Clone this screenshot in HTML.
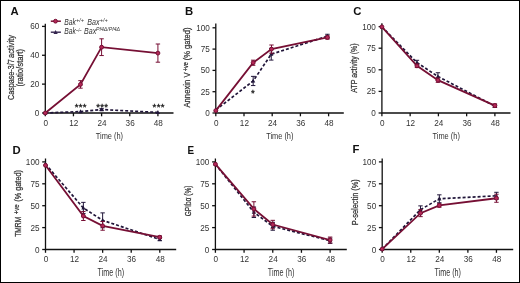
<!DOCTYPE html><html><head><meta charset="utf-8"><style>html,body{margin:0;padding:0;background:#fff}svg{display:block;will-change:transform}text{font-family:"Liberation Sans", sans-serif}</style></head><body>
<svg width="520" height="283" viewBox="0 0 520 283">
<rect x="0.5" y="0.5" width="519" height="282" fill="#fff" stroke="#000" stroke-width="1"/>
<g stroke="#111111" stroke-width="1.3" fill="none">
<path d="M45.3 23.8 V113 H173.5"/>
<path d="M42 113 H45.3"/>
<path d="M42 84.13 H45.3"/>
<path d="M42 55.27 H45.3"/>
<path d="M42 26.4 H45.3"/>
<path d="M45.3 113 V116.3"/>
<path d="M73.45 113 V116.3"/>
<path d="M101.6 113 V116.3"/>
<path d="M129.76 113 V116.3"/>
<path d="M157.91 113 V116.3"/>
</g>
<text x="39.3" y="116" font-size="9.4" text-anchor="end" fill="#333333" textLength="4.55" lengthAdjust="spacingAndGlyphs">0</text>
<text x="39.3" y="87.13" font-size="9.4" text-anchor="end" fill="#333333" textLength="9.1" lengthAdjust="spacingAndGlyphs">20</text>
<text x="39.3" y="58.27" font-size="9.4" text-anchor="end" fill="#333333" textLength="9.1" lengthAdjust="spacingAndGlyphs">40</text>
<text x="39.3" y="29.4" font-size="9.4" text-anchor="end" fill="#333333" textLength="9.1" lengthAdjust="spacingAndGlyphs">60</text>
<text x="45.7" y="125.9" font-size="9.4" text-anchor="middle" fill="#333333" textLength="4.55" lengthAdjust="spacingAndGlyphs">0</text>
<text x="73.85" y="125.9" font-size="9.4" text-anchor="middle" fill="#333333" textLength="9.1" lengthAdjust="spacingAndGlyphs">12</text>
<text x="102" y="125.9" font-size="9.4" text-anchor="middle" fill="#333333" textLength="9.1" lengthAdjust="spacingAndGlyphs">24</text>
<text x="130.16" y="125.9" font-size="9.4" text-anchor="middle" fill="#333333" textLength="9.1" lengthAdjust="spacingAndGlyphs">36</text>
<text x="158.31" y="125.9" font-size="9.4" text-anchor="middle" fill="#333333" textLength="9.1" lengthAdjust="spacingAndGlyphs">48</text>
<text x="109.4" y="138.8" font-size="9.7" text-anchor="middle" fill="#333333" textLength="27.3" lengthAdjust="spacingAndGlyphs">Time (h)</text>
<text x="14.2" y="99.9" font-size="9.9" text-anchor="start" fill="#333333" textLength="40.6" lengthAdjust="spacingAndGlyphs" transform="rotate(-90 14.2 99.9)" stroke="#333" stroke-width="0.25">Caspase-3/7</text>
<text x="14.2" y="57.9" font-size="9.9" text-anchor="start" fill="#333333" textLength="23" lengthAdjust="spacingAndGlyphs" transform="rotate(-90 14.2 57.9)" stroke="#333" stroke-width="0.25">activity</text>
<text x="23.5" y="86.6" font-size="9.9" text-anchor="start" fill="#333333" textLength="37.6" lengthAdjust="spacingAndGlyphs" transform="rotate(-90 23.5 86.6)" stroke="#333" stroke-width="0.25">(ratio/start)</text>
<text x="10.6" y="14.8" font-size="11.3" text-anchor="start" fill="#111" font-weight="bold">A</text>
<path d="M45.3 113 L80.49 111.56 L101.6 109.54 L157.91 112.42" stroke="#21163a" stroke-width="1.7" fill="none" stroke-dasharray="3 2"/>
<g stroke="#21163a" stroke-width="1" fill="none">
<path d="M101.6 108.67 V110.4 M99.4 108.67 H103.8 M99.4 110.4 H103.8"/>
</g>
<path d="M45.3 110.7 l2.1 3.9 h-4.2z" fill="#21163a"/>
<path d="M80.49 109.26 l2.1 3.9 h-4.2z" fill="#21163a"/>
<path d="M101.6 107.24 l2.1 3.9 h-4.2z" fill="#21163a"/>
<path d="M157.91 110.12 l2.1 3.9 h-4.2z" fill="#21163a"/>
<path d="M45.3 113 L80.49 84.42 L101.6 47.18 L157.91 53.1" stroke="#760f34" stroke-width="1.8" fill="none"/>
<g stroke="#760f34" stroke-width="1" fill="none">
<path d="M80.49 80.67 V88.17 M78.29 80.67 H82.69 M78.29 88.17 H82.69"/>
<path d="M101.6 38.81 V55.56 M99.4 38.81 H103.8 M99.4 55.56 H103.8"/>
<path d="M157.91 44.01 V62.19 M155.71 44.01 H160.11 M155.71 62.19 H160.11"/>
</g>
<circle cx="45.3" cy="113" r="1.95" fill="#b42858" stroke="#760f34" stroke-width="1"/>
<circle cx="80.49" cy="84.42" r="1.95" fill="#b42858" stroke="#760f34" stroke-width="1"/>
<circle cx="101.6" cy="47.18" r="1.95" fill="#b42858" stroke="#760f34" stroke-width="1"/>
<circle cx="157.91" cy="53.1" r="1.95" fill="#b42858" stroke="#760f34" stroke-width="1"/>
<text x="76.5" y="110.2" font-size="9.6" text-anchor="middle" fill="#1a1a1a" stroke="#1a1a1a" stroke-width="0.3">*</text>
<text x="80.6" y="110.2" font-size="9.6" text-anchor="middle" fill="#1a1a1a" stroke="#1a1a1a" stroke-width="0.3">*</text>
<text x="84.7" y="110.2" font-size="9.6" text-anchor="middle" fill="#1a1a1a" stroke="#1a1a1a" stroke-width="0.3">*</text>
<text x="98" y="110.2" font-size="9.6" text-anchor="middle" fill="#1a1a1a" stroke="#1a1a1a" stroke-width="0.3">*</text>
<text x="102.1" y="110.2" font-size="9.6" text-anchor="middle" fill="#1a1a1a" stroke="#1a1a1a" stroke-width="0.3">*</text>
<text x="106.2" y="110.2" font-size="9.6" text-anchor="middle" fill="#1a1a1a" stroke="#1a1a1a" stroke-width="0.3">*</text>
<text x="154.4" y="110.2" font-size="9.6" text-anchor="middle" fill="#1a1a1a" stroke="#1a1a1a" stroke-width="0.3">*</text>
<text x="158.5" y="110.2" font-size="9.6" text-anchor="middle" fill="#1a1a1a" stroke="#1a1a1a" stroke-width="0.3">*</text>
<text x="162.6" y="110.2" font-size="9.6" text-anchor="middle" fill="#1a1a1a" stroke="#1a1a1a" stroke-width="0.3">*</text>
<g stroke="#111111" stroke-width="1.3" fill="none">
<path d="M215.8 23.5 V113 H343.8"/>
<path d="M212.5 113 H215.8"/>
<path d="M212.5 91.7 H215.8"/>
<path d="M212.5 70.4 H215.8"/>
<path d="M212.5 49.1 H215.8"/>
<path d="M212.5 27.8 H215.8"/>
<path d="M215.8 113 V116.3"/>
<path d="M244 113 V116.3"/>
<path d="M272.2 113 V116.3"/>
<path d="M300.4 113 V116.3"/>
<path d="M328.6 113 V116.3"/>
</g>
<text x="209.8" y="116" font-size="9.4" text-anchor="end" fill="#333333" textLength="4.55" lengthAdjust="spacingAndGlyphs">0</text>
<text x="209.8" y="94.7" font-size="9.4" text-anchor="end" fill="#333333" textLength="9.1" lengthAdjust="spacingAndGlyphs">25</text>
<text x="209.8" y="73.4" font-size="9.4" text-anchor="end" fill="#333333" textLength="9.1" lengthAdjust="spacingAndGlyphs">50</text>
<text x="209.8" y="52.1" font-size="9.4" text-anchor="end" fill="#333333" textLength="9.1" lengthAdjust="spacingAndGlyphs">75</text>
<text x="209.8" y="30.8" font-size="9.4" text-anchor="end" fill="#333333" textLength="13.65" lengthAdjust="spacingAndGlyphs">100</text>
<text x="216.2" y="125.9" font-size="9.4" text-anchor="middle" fill="#333333" textLength="4.55" lengthAdjust="spacingAndGlyphs">0</text>
<text x="244.4" y="125.9" font-size="9.4" text-anchor="middle" fill="#333333" textLength="9.1" lengthAdjust="spacingAndGlyphs">12</text>
<text x="272.6" y="125.9" font-size="9.4" text-anchor="middle" fill="#333333" textLength="9.1" lengthAdjust="spacingAndGlyphs">24</text>
<text x="300.8" y="125.9" font-size="9.4" text-anchor="middle" fill="#333333" textLength="9.1" lengthAdjust="spacingAndGlyphs">36</text>
<text x="329" y="125.9" font-size="9.4" text-anchor="middle" fill="#333333" textLength="9.1" lengthAdjust="spacingAndGlyphs">48</text>
<text x="279.8" y="138.8" font-size="9.7" text-anchor="middle" fill="#333333" textLength="27.3" lengthAdjust="spacingAndGlyphs">Time (h)</text>
<text x="190" y="107.6" font-size="9.2" text-anchor="start" fill="#333333" textLength="35.2" lengthAdjust="spacingAndGlyphs" transform="rotate(-90 190 107.6)" stroke="#333" stroke-width="0.25">Annexin V</text>
<text x="188.2" y="71.2" font-size="7.2" text-anchor="start" fill="#333333" textLength="9" lengthAdjust="spacingAndGlyphs" transform="rotate(-90 188.2 71.2)" stroke="#333" stroke-width="0.25">+ve</text>
<text x="190" y="60.3" font-size="9.2" text-anchor="start" fill="#333333" textLength="32.8" lengthAdjust="spacingAndGlyphs" transform="rotate(-90 190 60.3)" stroke="#333" stroke-width="0.25">(% gated)</text>
<text x="185.1" y="14.8" font-size="11.3" text-anchor="start" fill="#111" font-weight="bold">B</text>
<path d="M215.8 110.02 L253.17 80.96 L271.26 54.21 L327.43 36.15" stroke="#21163a" stroke-width="1.7" fill="none" stroke-dasharray="3 2"/>
<g stroke="#21163a" stroke-width="1" fill="none">
<path d="M253.17 76.36 V85.57 M250.97 76.36 H255.37 M250.97 85.57 H255.37"/>
<path d="M271.26 48.33 V60.09 M269.06 48.33 H273.46 M269.06 60.09 H273.46"/>
<path d="M327.43 34.28 V38.02 M325.23 34.28 H329.62 M325.23 38.02 H329.62"/>
</g>
<path d="M215.8 107.72 l2.1 3.9 h-4.2z" fill="#21163a"/>
<path d="M253.17 78.66 l2.1 3.9 h-4.2z" fill="#21163a"/>
<path d="M271.26 51.91 l2.1 3.9 h-4.2z" fill="#21163a"/>
<path d="M327.43 33.85 l2.1 3.9 h-4.2z" fill="#21163a"/>
<path d="M215.8 110.61 L253.17 62.73 L271.5 49.1 L327.43 37.43" stroke="#760f34" stroke-width="1.8" fill="none"/>
<g stroke="#760f34" stroke-width="1" fill="none">
<path d="M253.17 60.18 V65.29 M250.97 60.18 H255.37 M250.97 65.29 H255.37"/>
<path d="M271.5 45.01 V53.19 M269.3 45.01 H273.69 M269.3 53.19 H273.69"/>
<path d="M327.43 35.72 V39.13 M325.23 35.72 H329.62 M325.23 39.13 H329.62"/>
</g>
<circle cx="215.8" cy="110.61" r="1.95" fill="#b42858" stroke="#760f34" stroke-width="1"/>
<circle cx="253.17" cy="62.73" r="1.95" fill="#b42858" stroke="#760f34" stroke-width="1"/>
<circle cx="271.5" cy="49.1" r="1.95" fill="#b42858" stroke="#760f34" stroke-width="1"/>
<circle cx="327.43" cy="37.43" r="1.95" fill="#b42858" stroke="#760f34" stroke-width="1"/>
<text x="252.8" y="95.8" font-size="9.6" text-anchor="middle" fill="#1a1a1a" stroke="#1a1a1a" stroke-width="0.3">*</text>
<g stroke="#111111" stroke-width="1.3" fill="none">
<path d="M381.9 23.3 V113 H510.5"/>
<path d="M378.6 113 H381.9"/>
<path d="M378.6 91.4 H381.9"/>
<path d="M378.6 69.8 H381.9"/>
<path d="M378.6 48.2 H381.9"/>
<path d="M378.6 26.6 H381.9"/>
<path d="M381.9 113 V116.3"/>
<path d="M410.15 113 V116.3"/>
<path d="M438.4 113 V116.3"/>
<path d="M466.64 113 V116.3"/>
<path d="M494.89 113 V116.3"/>
</g>
<text x="375.9" y="116" font-size="9.4" text-anchor="end" fill="#333333" textLength="4.55" lengthAdjust="spacingAndGlyphs">0</text>
<text x="375.9" y="94.4" font-size="9.4" text-anchor="end" fill="#333333" textLength="9.1" lengthAdjust="spacingAndGlyphs">25</text>
<text x="375.9" y="72.8" font-size="9.4" text-anchor="end" fill="#333333" textLength="9.1" lengthAdjust="spacingAndGlyphs">50</text>
<text x="375.9" y="51.2" font-size="9.4" text-anchor="end" fill="#333333" textLength="9.1" lengthAdjust="spacingAndGlyphs">75</text>
<text x="375.9" y="29.6" font-size="9.4" text-anchor="end" fill="#333333" textLength="13.65" lengthAdjust="spacingAndGlyphs">100</text>
<text x="382.3" y="125.9" font-size="9.4" text-anchor="middle" fill="#333333" textLength="4.55" lengthAdjust="spacingAndGlyphs">0</text>
<text x="410.55" y="125.9" font-size="9.4" text-anchor="middle" fill="#333333" textLength="9.1" lengthAdjust="spacingAndGlyphs">12</text>
<text x="438.8" y="125.9" font-size="9.4" text-anchor="middle" fill="#333333" textLength="9.1" lengthAdjust="spacingAndGlyphs">24</text>
<text x="467.04" y="125.9" font-size="9.4" text-anchor="middle" fill="#333333" textLength="9.1" lengthAdjust="spacingAndGlyphs">36</text>
<text x="495.29" y="125.9" font-size="9.4" text-anchor="middle" fill="#333333" textLength="9.1" lengthAdjust="spacingAndGlyphs">48</text>
<text x="446.2" y="138.8" font-size="9.7" text-anchor="middle" fill="#333333" textLength="27.3" lengthAdjust="spacingAndGlyphs">Time (h)</text>
<text x="357.3" y="92.8" font-size="9.6" text-anchor="start" fill="#333333" textLength="49.4" lengthAdjust="spacingAndGlyphs" transform="rotate(-90 357.3 92.8)" stroke="#333" stroke-width="0.25">ATP activity (%)</text>
<text x="353.3" y="15" font-size="11.3" text-anchor="start" fill="#111" font-weight="bold">C</text>
<path d="M381.9 26.86 L416.97 62.63 L437.93 76.45 L494.89 106.09" stroke="#21163a" stroke-width="1.7" fill="none" stroke-dasharray="3 2"/>
<g stroke="#21163a" stroke-width="1" fill="none">
<path d="M416.97 60.3 V64.96 M414.77 60.3 H419.17 M414.77 64.96 H419.17"/>
<path d="M437.93 72.74 V80.17 M435.73 72.74 H440.13 M435.73 80.17 H440.13"/>
<path d="M494.89 104.79 V107.38 M492.69 104.79 H497.09 M492.69 107.38 H497.09"/>
</g>
<path d="M381.9 24.56 l2.1 3.9 h-4.2z" fill="#21163a"/>
<path d="M416.97 60.33 l2.1 3.9 h-4.2z" fill="#21163a"/>
<path d="M437.93 74.15 l2.1 3.9 h-4.2z" fill="#21163a"/>
<path d="M494.89 103.79 l2.1 3.9 h-4.2z" fill="#21163a"/>
<path d="M381.9 26.86 L416.97 65.83 L437.93 80.17 L494.89 105.57" stroke="#760f34" stroke-width="1.8" fill="none"/>
<g stroke="#760f34" stroke-width="1" fill="none">
<path d="M416.97 64.1 V67.55 M414.77 64.1 H419.17 M414.77 67.55 H419.17"/>
<path d="M437.93 78.01 V82.33 M435.73 78.01 H440.13 M435.73 82.33 H440.13"/>
<path d="M494.89 103.84 V107.3 M492.69 103.84 H497.09 M492.69 107.3 H497.09"/>
</g>
<circle cx="381.9" cy="26.86" r="1.95" fill="#b42858" stroke="#760f34" stroke-width="1"/>
<circle cx="416.97" cy="65.83" r="1.95" fill="#b42858" stroke="#760f34" stroke-width="1"/>
<circle cx="437.93" cy="80.17" r="1.95" fill="#b42858" stroke="#760f34" stroke-width="1"/>
<circle cx="494.89" cy="105.57" r="1.95" fill="#b42858" stroke="#760f34" stroke-width="1"/>
<g stroke="#111111" stroke-width="1.3" fill="none">
<path d="M45.5 158.6 V249.5 H176.2"/>
<path d="M42.2 249.5 H45.5"/>
<path d="M42.2 227.6 H45.5"/>
<path d="M42.2 205.7 H45.5"/>
<path d="M42.2 183.8 H45.5"/>
<path d="M42.2 161.9 H45.5"/>
<path d="M45.5 249.5 V252.8"/>
<path d="M74.07 249.5 V252.8"/>
<path d="M102.64 249.5 V252.8"/>
<path d="M131.22 249.5 V252.8"/>
<path d="M159.79 249.5 V252.8"/>
</g>
<text x="39.5" y="252.5" font-size="9.4" text-anchor="end" fill="#333333" textLength="4.55" lengthAdjust="spacingAndGlyphs">0</text>
<text x="39.5" y="230.6" font-size="9.4" text-anchor="end" fill="#333333" textLength="9.1" lengthAdjust="spacingAndGlyphs">25</text>
<text x="39.5" y="208.7" font-size="9.4" text-anchor="end" fill="#333333" textLength="9.1" lengthAdjust="spacingAndGlyphs">50</text>
<text x="39.5" y="186.8" font-size="9.4" text-anchor="end" fill="#333333" textLength="9.1" lengthAdjust="spacingAndGlyphs">75</text>
<text x="39.5" y="164.9" font-size="9.4" text-anchor="end" fill="#333333" textLength="13.65" lengthAdjust="spacingAndGlyphs">100</text>
<text x="45.9" y="262.4" font-size="9.4" text-anchor="middle" fill="#333333" textLength="4.55" lengthAdjust="spacingAndGlyphs">0</text>
<text x="74.47" y="262.4" font-size="9.4" text-anchor="middle" fill="#333333" textLength="9.1" lengthAdjust="spacingAndGlyphs">12</text>
<text x="103.04" y="262.4" font-size="9.4" text-anchor="middle" fill="#333333" textLength="9.1" lengthAdjust="spacingAndGlyphs">24</text>
<text x="131.62" y="262.4" font-size="9.4" text-anchor="middle" fill="#333333" textLength="9.1" lengthAdjust="spacingAndGlyphs">36</text>
<text x="160.19" y="262.4" font-size="9.4" text-anchor="middle" fill="#333333" textLength="9.1" lengthAdjust="spacingAndGlyphs">48</text>
<text x="110.85" y="275.6" font-size="10.6" text-anchor="middle" fill="#333333" textLength="26.6" lengthAdjust="spacingAndGlyphs">Time (h)</text>
<text x="21" y="236.8" font-size="9.2" text-anchor="start" fill="#333333" textLength="20" lengthAdjust="spacingAndGlyphs" transform="rotate(-90 21 236.8)" stroke="#333" stroke-width="0.25">TMRM</text>
<text x="19" y="214.3" font-size="7.2" text-anchor="start" fill="#333333" textLength="9.8" lengthAdjust="spacingAndGlyphs" transform="rotate(-90 19 214.3)" stroke="#333" stroke-width="0.25">+ve</text>
<text x="21" y="201.8" font-size="9.2" text-anchor="start" fill="#333333" textLength="31.8" lengthAdjust="spacingAndGlyphs" transform="rotate(-90 21 201.8)" stroke="#333" stroke-width="0.25">(% gated)</text>
<text x="12.5" y="153.8" font-size="11.3" text-anchor="start" fill="#111" font-weight="bold">D</text>
<path d="M45.5 164.09 L83.36 207.98 L102.64 220.33 L159.79 239.43" stroke="#21163a" stroke-width="1.7" fill="none" stroke-dasharray="3 2"/>
<g stroke="#21163a" stroke-width="1" fill="none">
<path d="M83.36 202.37 V213.58 M81.16 202.37 H85.56 M81.16 213.58 H85.56"/>
<path d="M102.64 212.88 V227.78 M100.44 212.88 H104.84 M100.44 227.78 H104.84"/>
<path d="M159.79 238.11 V240.74 M157.59 238.11 H161.99 M157.59 240.74 H161.99"/>
</g>
<path d="M45.5 161.79 l2.1 3.9 h-4.2z" fill="#21163a"/>
<path d="M83.36 205.68 l2.1 3.9 h-4.2z" fill="#21163a"/>
<path d="M102.64 218.03 l2.1 3.9 h-4.2z" fill="#21163a"/>
<path d="M159.79 237.13 l2.1 3.9 h-4.2z" fill="#21163a"/>
<path d="M45.5 165.32 L83.36 216.04 L102.64 225.85 L159.79 237.24" stroke="#760f34" stroke-width="1.8" fill="none"/>
<g stroke="#760f34" stroke-width="1" fill="none">
<path d="M83.36 211.57 V220.5 M81.16 211.57 H85.56 M81.16 220.5 H85.56"/>
<path d="M102.64 221.47 V230.23 M100.44 221.47 H104.84 M100.44 230.23 H104.84"/>
<path d="M159.79 235.92 V238.55 M157.59 235.92 H161.99 M157.59 238.55 H161.99"/>
</g>
<circle cx="45.5" cy="165.32" r="1.95" fill="#b42858" stroke="#760f34" stroke-width="1"/>
<circle cx="83.36" cy="216.04" r="1.95" fill="#b42858" stroke="#760f34" stroke-width="1"/>
<circle cx="102.64" cy="225.85" r="1.95" fill="#b42858" stroke="#760f34" stroke-width="1"/>
<circle cx="159.79" cy="237.24" r="1.95" fill="#b42858" stroke="#760f34" stroke-width="1"/>
<g stroke="#111111" stroke-width="1.3" fill="none">
<path d="M215.4 158.6 V249.5 H346.8"/>
<path d="M212.1 249.5 H215.4"/>
<path d="M212.1 227.6 H215.4"/>
<path d="M212.1 205.7 H215.4"/>
<path d="M212.1 183.8 H215.4"/>
<path d="M212.1 161.9 H215.4"/>
<path d="M215.4 249.5 V252.8"/>
<path d="M244.08 249.5 V252.8"/>
<path d="M272.76 249.5 V252.8"/>
<path d="M301.44 249.5 V252.8"/>
<path d="M330.12 249.5 V252.8"/>
</g>
<text x="209.4" y="252.5" font-size="9.4" text-anchor="end" fill="#333333" textLength="4.55" lengthAdjust="spacingAndGlyphs">0</text>
<text x="209.4" y="230.6" font-size="9.4" text-anchor="end" fill="#333333" textLength="9.1" lengthAdjust="spacingAndGlyphs">25</text>
<text x="209.4" y="208.7" font-size="9.4" text-anchor="end" fill="#333333" textLength="9.1" lengthAdjust="spacingAndGlyphs">50</text>
<text x="209.4" y="186.8" font-size="9.4" text-anchor="end" fill="#333333" textLength="9.1" lengthAdjust="spacingAndGlyphs">75</text>
<text x="209.4" y="164.9" font-size="9.4" text-anchor="end" fill="#333333" textLength="13.65" lengthAdjust="spacingAndGlyphs">100</text>
<text x="215.8" y="262.4" font-size="9.4" text-anchor="middle" fill="#333333" textLength="4.55" lengthAdjust="spacingAndGlyphs">0</text>
<text x="244.48" y="262.4" font-size="9.4" text-anchor="middle" fill="#333333" textLength="9.1" lengthAdjust="spacingAndGlyphs">12</text>
<text x="273.16" y="262.4" font-size="9.4" text-anchor="middle" fill="#333333" textLength="9.1" lengthAdjust="spacingAndGlyphs">24</text>
<text x="301.84" y="262.4" font-size="9.4" text-anchor="middle" fill="#333333" textLength="9.1" lengthAdjust="spacingAndGlyphs">36</text>
<text x="330.52" y="262.4" font-size="9.4" text-anchor="middle" fill="#333333" textLength="9.1" lengthAdjust="spacingAndGlyphs">48</text>
<text x="281.1" y="275.6" font-size="10.6" text-anchor="middle" fill="#333333" textLength="26.6" lengthAdjust="spacingAndGlyphs">Time (h)</text>
<text x="190.9" y="216.2" font-size="9.6" text-anchor="start" fill="#333333" textLength="30.6" lengthAdjust="spacingAndGlyphs" transform="rotate(-90 190.9 216.2)" stroke="#333" stroke-width="0.25">GPIb&#945; (%)</text>
<text x="187.4" y="154.1" font-size="11.3" text-anchor="start" fill="#111" font-weight="bold" textLength="6.6" lengthAdjust="spacingAndGlyphs">E</text>
<path d="M215.4 164.18 L253.88 212.27 L272.76 226.29 L330.12 240.74" stroke="#21163a" stroke-width="1.7" fill="none" stroke-dasharray="3 2"/>
<g stroke="#21163a" stroke-width="1" fill="none">
<path d="M253.88 207.01 V217.53 M251.68 207.01 H256.08 M251.68 217.53 H256.08"/>
<path d="M272.76 222.34 V230.23 M270.56 222.34 H274.96 M270.56 230.23 H274.96"/>
<path d="M330.12 238.11 V243.37 M327.92 238.11 H332.32 M327.92 243.37 H332.32"/>
</g>
<path d="M215.4 161.88 l2.1 3.9 h-4.2z" fill="#21163a"/>
<path d="M253.88 209.97 l2.1 3.9 h-4.2z" fill="#21163a"/>
<path d="M272.76 223.99 l2.1 3.9 h-4.2z" fill="#21163a"/>
<path d="M330.12 238.44 l2.1 3.9 h-4.2z" fill="#21163a"/>
<path d="M215.4 164.18 L253.88 208.94 L272.76 224.53 L330.12 240.04" stroke="#760f34" stroke-width="1.8" fill="none"/>
<g stroke="#760f34" stroke-width="1" fill="none">
<path d="M253.88 201.76 V216.12 M251.68 201.76 H256.08 M251.68 216.12 H256.08"/>
<path d="M272.76 220.33 V228.74 M270.56 220.33 H274.96 M270.56 228.74 H274.96"/>
<path d="M330.12 237.06 V243.02 M327.92 237.06 H332.32 M327.92 243.02 H332.32"/>
</g>
<circle cx="215.4" cy="164.18" r="1.95" fill="#b42858" stroke="#760f34" stroke-width="1"/>
<circle cx="253.88" cy="208.94" r="1.95" fill="#b42858" stroke="#760f34" stroke-width="1"/>
<circle cx="272.76" cy="224.53" r="1.95" fill="#b42858" stroke="#760f34" stroke-width="1"/>
<circle cx="330.12" cy="240.04" r="1.95" fill="#b42858" stroke="#760f34" stroke-width="1"/>
<g stroke="#111111" stroke-width="1.3" fill="none">
<path d="M382.2 158.5 V249.5 H513.2"/>
<path d="M378.9 249.5 H382.2"/>
<path d="M378.9 227.6 H382.2"/>
<path d="M378.9 205.7 H382.2"/>
<path d="M378.9 183.8 H382.2"/>
<path d="M378.9 161.9 H382.2"/>
<path d="M382.2 249.5 V252.8"/>
<path d="M410.76 249.5 V252.8"/>
<path d="M439.32 249.5 V252.8"/>
<path d="M467.88 249.5 V252.8"/>
<path d="M496.44 249.5 V252.8"/>
</g>
<text x="376.2" y="252.5" font-size="9.4" text-anchor="end" fill="#333333" textLength="4.55" lengthAdjust="spacingAndGlyphs">0</text>
<text x="376.2" y="230.6" font-size="9.4" text-anchor="end" fill="#333333" textLength="9.1" lengthAdjust="spacingAndGlyphs">25</text>
<text x="376.2" y="208.7" font-size="9.4" text-anchor="end" fill="#333333" textLength="9.1" lengthAdjust="spacingAndGlyphs">50</text>
<text x="376.2" y="186.8" font-size="9.4" text-anchor="end" fill="#333333" textLength="9.1" lengthAdjust="spacingAndGlyphs">75</text>
<text x="376.2" y="164.9" font-size="9.4" text-anchor="end" fill="#333333" textLength="13.65" lengthAdjust="spacingAndGlyphs">100</text>
<text x="382.6" y="262.4" font-size="9.4" text-anchor="middle" fill="#333333" textLength="4.55" lengthAdjust="spacingAndGlyphs">0</text>
<text x="411.16" y="262.4" font-size="9.4" text-anchor="middle" fill="#333333" textLength="9.1" lengthAdjust="spacingAndGlyphs">12</text>
<text x="439.72" y="262.4" font-size="9.4" text-anchor="middle" fill="#333333" textLength="9.1" lengthAdjust="spacingAndGlyphs">24</text>
<text x="468.28" y="262.4" font-size="9.4" text-anchor="middle" fill="#333333" textLength="9.1" lengthAdjust="spacingAndGlyphs">36</text>
<text x="496.84" y="262.4" font-size="9.4" text-anchor="middle" fill="#333333" textLength="9.1" lengthAdjust="spacingAndGlyphs">48</text>
<text x="447.7" y="275.6" font-size="10.6" text-anchor="middle" fill="#333333" textLength="26.6" lengthAdjust="spacingAndGlyphs">Time (h)</text>
<text x="358.3" y="225.2" font-size="9.6" text-anchor="start" fill="#333333" textLength="46" lengthAdjust="spacingAndGlyphs" transform="rotate(-90 358.3 225.2)" stroke="#333" stroke-width="0.25">P-selectin (%)</text>
<text x="352.5" y="152.7" font-size="11.3" text-anchor="start" fill="#111" font-weight="bold">F</text>
<path d="M382.2 249.06 L420.52 209.64 L439.32 198.78 L496.44 195.8" stroke="#21163a" stroke-width="1.7" fill="none" stroke-dasharray="3 2"/>
<g stroke="#21163a" stroke-width="1" fill="none">
<path d="M420.52 205.88 V213.41 M418.32 205.88 H422.72 M418.32 213.41 H422.72"/>
<path d="M439.32 194.84 V202.72 M437.12 194.84 H441.52 M437.12 202.72 H441.52"/>
<path d="M496.44 192.3 V199.31 M494.24 192.3 H498.64 M494.24 199.31 H498.64"/>
</g>
<path d="M382.2 246.76 l2.1 3.9 h-4.2z" fill="#21163a"/>
<path d="M420.52 207.34 l2.1 3.9 h-4.2z" fill="#21163a"/>
<path d="M439.32 196.48 l2.1 3.9 h-4.2z" fill="#21163a"/>
<path d="M496.44 193.5 l2.1 3.9 h-4.2z" fill="#21163a"/>
<path d="M382.2 249.06 L420.52 213.15 L439.32 205.44 L496.44 198.25" stroke="#760f34" stroke-width="1.8" fill="none"/>
<g stroke="#760f34" stroke-width="1" fill="none">
<path d="M420.52 209.64 V216.65 M418.32 209.64 H422.72 M418.32 216.65 H422.72"/>
<path d="M439.32 203.69 V207.19 M437.12 203.69 H441.52 M437.12 207.19 H441.52"/>
<path d="M496.44 194.22 V202.28 M494.24 194.22 H498.64 M494.24 202.28 H498.64"/>
</g>
<circle cx="382.2" cy="249.06" r="1.95" fill="#b42858" stroke="#760f34" stroke-width="1"/>
<circle cx="420.52" cy="213.15" r="1.95" fill="#b42858" stroke="#760f34" stroke-width="1"/>
<circle cx="439.32" cy="205.44" r="1.95" fill="#b42858" stroke="#760f34" stroke-width="1"/>
<circle cx="496.44" cy="198.25" r="1.95" fill="#b42858" stroke="#760f34" stroke-width="1"/>
<path d="M50.8 21.2 H60.9" stroke="#760f34" stroke-width="1.5"/>
<circle cx="55.5" cy="21.2" r="1.9" fill="#b42858" stroke="#760f34" stroke-width="1"/>
<path d="M50.8 32.2 H60.9" stroke="#34254f" stroke-width="1.4"/>
<path d="M55.6 29.9 l2.1 4 h-4.2z" fill="#34254f"/>
<text x="64.3" y="24.8" font-size="8.4" font-style="italic" fill="#333333" textLength="11.6" lengthAdjust="spacingAndGlyphs">Bak</text>
<text x="76" y="21.7" font-size="5.2" font-style="italic" fill="#333333" textLength="8" lengthAdjust="spacingAndGlyphs">+/+</text>
<text x="87.3" y="24.8" font-size="8.4" font-style="italic" fill="#333333" textLength="12.2" lengthAdjust="spacingAndGlyphs">Bax</text>
<text x="99.7" y="21.7" font-size="5.2" font-style="italic" fill="#333333" textLength="8" lengthAdjust="spacingAndGlyphs">+/+</text>
<text x="64.3" y="34.1" font-size="8.4" font-style="italic" fill="#333333" textLength="11.6" lengthAdjust="spacingAndGlyphs">Bak</text>
<text x="76" y="31.6" font-size="5.2" font-style="italic" fill="#333333" textLength="5.4" lengthAdjust="spacingAndGlyphs">&#8211;/&#8211;</text>
<text x="84.1" y="34.1" font-size="8.4" font-style="italic" fill="#333333" textLength="12.2" lengthAdjust="spacingAndGlyphs">Bax</text>
<text x="96" y="30.9" font-size="5" font-style="italic" fill="#333333" textLength="24" lengthAdjust="spacingAndGlyphs">Pf4&#916;/Pf4&#916;</text>
</svg></body></html>
